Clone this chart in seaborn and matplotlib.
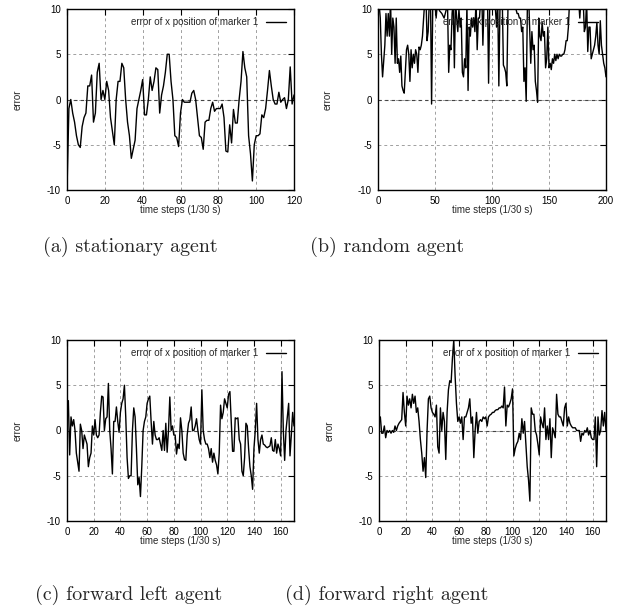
import numpy as np
import pandas as pd
import matplotlib
matplotlib.use("Agg")
import matplotlib.pyplot as plt
import seaborn as sns

# ---------------- data ----------------
a_err = [-10, -1, 0, -1.5, -2.5, -4, -5, -5.3, -3, -2, -1.5, 1.5, 1.5, 2.7, -2.5, -1.5,
         3, 4, 0, 1, 0, 2, 1, -2, -3.5, -5, 0, 2, 2, 4, 3.5, 0, -2.5, -4, -6.5, -5.5,
         -4.5, -1, 0, 1, 2.2, -1.7, -1.7, 0, 2.5, 1, 2, 3.5, 3.3, -1.5, 0.5, 1.5, 3,
         5, 5, 2, 0, -4, -4.2, -5.2, -1.5, 0, -0.3, -0.3, -0.3, -0.3, 0.7, 1, 0, -2,
         -4, -4.2, -5.5, -2.5, -2.3, -2.3, -1, -0.3, -1.3, -1, -1, -1, -0.5, -2, -5.7,
         -5.8, -2.8, -4.8, -1.1, -2.6, -2.6, 0, 2, 5.3, 3.5, 2.5, -4, -6, -9, -5, -4,
         -4, -3.8, -1.7, -2, -1, 1, 3.2, 1.5, 0, -0.5, -0.5, 0.8, -0.3, 0, 0.2, -1, 0,
         3.6, -0.5, 0.5]
a_t = list(range(len(a_err)))

b_t = [0, 2, 3, 4, 6, 7, 8, 9, 10, 11, 12, 13, 14, 15, 16, 17, 18, 19, 20, 21, 22, 23,
       24, 25, 26, 27, 28, 29, 30, 31, 32, 33, 34, 35, 36, 37, 38, 39, 40, 41, 42, 43,
       44, 45, 46, 47, 48, 49, 51, 52, 54, 56, 58, 60, 61, 62, 63, 64, 65, 66, 67, 68,
       69, 70, 71, 72, 73, 74, 75, 76, 77, 78, 79, 80, 81, 82, 83, 84, 85, 86, 87, 88,
       89, 90, 91, 92, 93, 94, 95, 96, 97, 98, 99, 100, 101, 102, 103, 104, 105, 106,
       107, 108, 109, 110, 111, 112, 113, 114, 115, 116, 117, 118, 119, 120, 121, 122,
       123, 124, 125, 126, 127, 128, 129, 130, 131, 132, 133, 134, 135, 136, 137, 138,
       139, 140, 141, 142, 143, 144, 145, 146, 147, 148, 149, 150, 151, 152, 153, 154,
       155, 156, 157, 158, 159, 160, 161, 162, 163, 164, 165, 166, 167, 168, 169, 170,
       171, 172, 173, 174, 175, 176, 177, 178, 179, 180, 181, 182, 183, 184, 185, 186,
       187, 188, 189, 190, 191, 192, 193, 194, 195, 196, 197, 198, 199, 200]
b_err = [12, 9, 5, 2.5, 6, 9.5, 7, 9.5, 7, 11, 5, 9, 8, 4, 9, 4, 4.5, 3, 4.8, 1.5, 1,
         0.7, 3, 5.5, 6, 5, 2, 5.5, 3.5, 5, 4, 5.5, 5, 3, 5.8, 5.5, 6, 7, 9, 11, 12,
         6.5, 7.5, 11, 12, -0.5, 11, 12, 9, 10.5, 9.8, 9.5, 9, 10, 10.5, 3, 6, 5.5, 9.5,
         11, 3.5, 11, 9, 7.5, 10, 8, 9, 3, 2.5, 4.5, 3.5, 10.5, 1, 8, 7, 9, 8, 9, 7.5,
         11, 5.5, 9, 9, 11, 12, 6, 11, 12, 11, 12, 1.8, 11, 12, 11, 12, 11, 10, 8, 11,
         1.5, 11, 12, 11, 3.8, 3.5, 3, 1.5, 11, 12, 11, 12, 11, 10.5, 11, 10, 9.5, 9.5,
         9, 9, 7.5, 8, 2, 3.5, -0.2, 11, 12, 8, 4, 7.5, 5.5, 6, 2, 1, -0.3, 9, 7, 6.5,
         8.5, 7, 7.5, 3.5, 4.5, 8, 3.5, 4, 3.3, 4.5, 4, 5, 4.3, 5, 4.5, 5, 4.8, 4.8, 5,
         5, 5.5, 6.5, 6.5, 8, 11, 12, 11, 12, 11, 12, 11, 12, 11, 9, 11, 12, 11, 7.5, 8,
         11, 5.3, 8, 8, 4.5, 5, 5.5, 6, 7, 8.5, 6, 5, 8.7, 6, 5, 4, 3.5, 2.5]

c_err = [3, 3.3, -2.7, 1.5, 0.5, 1.2, 0, -2.5, -3.5, -4.5, 0.7, 0, -2, -0.5, -1, -1.5,
         -4, -3, -2.5, 0.5, -0.5, 1.2, -0.5, -0.8, -0.5, 2, 3.8, 3.7, 0, 1.3, 1.5, 5.2,
         0, -2, -4.8, 1, 1, 2.6, 1, -0.2, 2, 3, 3.5, 5, 1.5, -3, -5.3, -5, -5, 0, 2.5,
         1.5, -2, -6, -5.2, -7.3, -4, 0, 1, 1.5, 3, 3.5, 3.8, 1, -1.5, 1, -0.5, -1, -1,
         -0.8, -1.5, -2.2, 0, -2.2, 0.8, -2.4, 0, 3.7, 0, 0.5, -0.5, -0.5, -2.6, -1.5,
         -2, 1.4, 0, -2.5, -3.2, -3.3, -0.5, 0.8, 1.2, 2.6, 0, 0, 0.5, 1.3, 0, -1, -1.5,
         4.5, 0, -1, -1.5, -1.5, -2, -3, -2, -3.5, -2.5, -3.3, -3.8, -4.8, -2.5, 2.8, 1.3,
         2, 3.5, 3, 2.5, 4, 4.3, 1, -2.3, -2.3, 1.4, 1.3, 1.4, -1, -1.5, -4.5, -5, -3,
         0.8, 0.5, -2, -4, -5, -6.5, -2, 0, 3, -1, -2.5, -1, -0.5, -1.5, -1.6, -1.8,
         -1.9, -1.8, -1.7, -0.8, -2.2, -2.3, -1, -2.5, -1.5, -2, -2.8, 6.5, 0, -3.3, 0,
         1.5, 3, -2.8, -0.5, 2, 0.5]
c_t = list(range(len(c_err)))

d_err = [1, 1.5, -0.3, -0.3, 0.5, -0.8, 0, -0.2, 0, -0.3, 0, -0.2, 0.5, 0, 0.5, 0.8, 1,
         1.2, 4.2, 2, 0.5, 3.8, 2.8, 3.5, 2.5, 4, 3, 3.8, 2, 2.5, 1, -1, -2.5, -4.5, -3,
         -5.2, 0, 3.5, 3.8, 2.5, 2, 1.8, 1.5, 2.8, -1.8, -2.5, 2.5, 0, 2, 1, -3.2, 2, 4.5,
         5.5, 5.3, 8, 10, 6, 3, 1, 1.5, 0.8, 1.5, -1, 1.5, 1.5, 2, 2.5, 3.5, 0.8, 1.5, -3,
         0, 2, -0.3, 1, 1.2, 1, 1.5, 1.3, 1.5, 0.5, 1.5, 1.7, 1.8, 2, 2, 2.2, 2.3, 2.3,
         2.5, 2.5, 2.7, 2.5, 4.8, 0.5, 2.8, 2.6, 3, 3.5, 4.6, -2.8, -2, -1.5, -1.2, -0.3,
         -1, 1.3, -0.3, 1, -1.5, -4, -5.5, -7.8, 2.5, 1.8, 1.8, 0, -0.5, -1.5, -2.7, 1.5,
         0.8, 0.3, 2.5, -1, 0.5, -1, 1.3, -3, 0.3, -0.2, -0.8, 4, 1.8, 1.5, 1.5, 1, 0.5,
         2.5, 3, 0.5, 1.5, 0.8, 0.5, 0.3, 0.3, 0.3, 0, 0, 0, -1.2, -0.3, -0.5, 0, -0.2,
         0.3, -0.5, 0, -0.8, -1, -1, 1.5, -4, 1.5, -0.5, 0, 2.2, 0.5, 2, 0]
d_t = list(range(len(d_err)))

legend_label = "error of x position of marker 1"
captions = ["(a) stationary agent", "(b) random agent",
            "(c) forward left agent", "(d) forward right agent"]
xlims = [120, 200, 170, 170]
xticks = [[0, 20, 40, 60, 80, 100, 120],
          [0, 50, 100, 150, 200],
          [0, 20, 40, 60, 80, 100, 120, 140, 160],
          [0, 20, 40, 60, 80, 100, 120, 140, 160]]
yticks = [-10, -5, 0, 5, 10]

# ---------------- figure ----------------
sns.set_style("white")
plt.rcParams['font.family'] = ['Liberation Sans', 'DejaVu Sans']
plt.rcParams['axes.unicode_minus'] = False

W, H = 633, 611
fig = plt.figure(figsize=(W / 100, H / 100), dpi=100)

boxes = [(67, 9, 227, 181), (378, 9, 228, 181), (67, 340, 227, 181), (379, 340, 227, 181)]
cap_pos = [(130, 247), (387, 247), (129, 595), (387, 595)]
series = [(a_t, a_err), (b_t, b_err), (c_t, c_err), (d_t, d_err)]

for i, (bx, by, bw, bh) in enumerate(boxes):
    ax = fig.add_axes([bx / W, 1 - (by + bh) / H, bw / W, bh / H])
    t, e = series[i]
    df = pd.DataFrame({"t": t, "err": e})
    ax.axhline(0, color="#444444", linestyle=(0, (3, 3)), linewidth=0.8, zorder=1)
    sns.lineplot(data=df, x="t", y="err", ax=ax, color="black", linewidth=1.0,
                 label=legend_label, estimator=None, sort=False, zorder=3)
    ax.set_xlim(0, xlims[i])
    ax.set_ylim(-10, 10)
    ax.set_xticks(xticks[i])
    ax.set_yticks(yticks)
    ax.grid(True, linestyle=(0, (3, 3)), color="#a0a0a0", linewidth=0.7)
    ax.set_axisbelow(True)
    for s in ax.spines.values():
        s.set_color("black")
        s.set_linewidth(1.0)
        s.set_zorder(4)
    ax.tick_params(direction="in", top=True, right=True, labelsize=7, length=4,
                   width=0.8, pad=4.5, colors="black")
    ax.set_xlabel("time steps (1/30 s)", fontsize=7, labelpad=0)
    ax.set_ylabel("error", fontsize=7)
    ax.yaxis.set_label_coords(-0.197, 0.5)
    ax.xaxis.set_label_coords(0.5, -0.085)
    leg = ax.legend(loc="upper right", frameon=False, fontsize=7, markerfirst=False,
                    handlelength=2.0, handletextpad=0.8, borderaxespad=0.55,
                    borderpad=0.3)
    cx, cy = cap_pos[i]
    fig.text(cx / W, 1 - cy / H, captions[i], ha="center", va="center",
             fontsize=14.4, family=["cmr10", "DejaVu Serif"])

fig.savefig("out.png", dpi=100)
